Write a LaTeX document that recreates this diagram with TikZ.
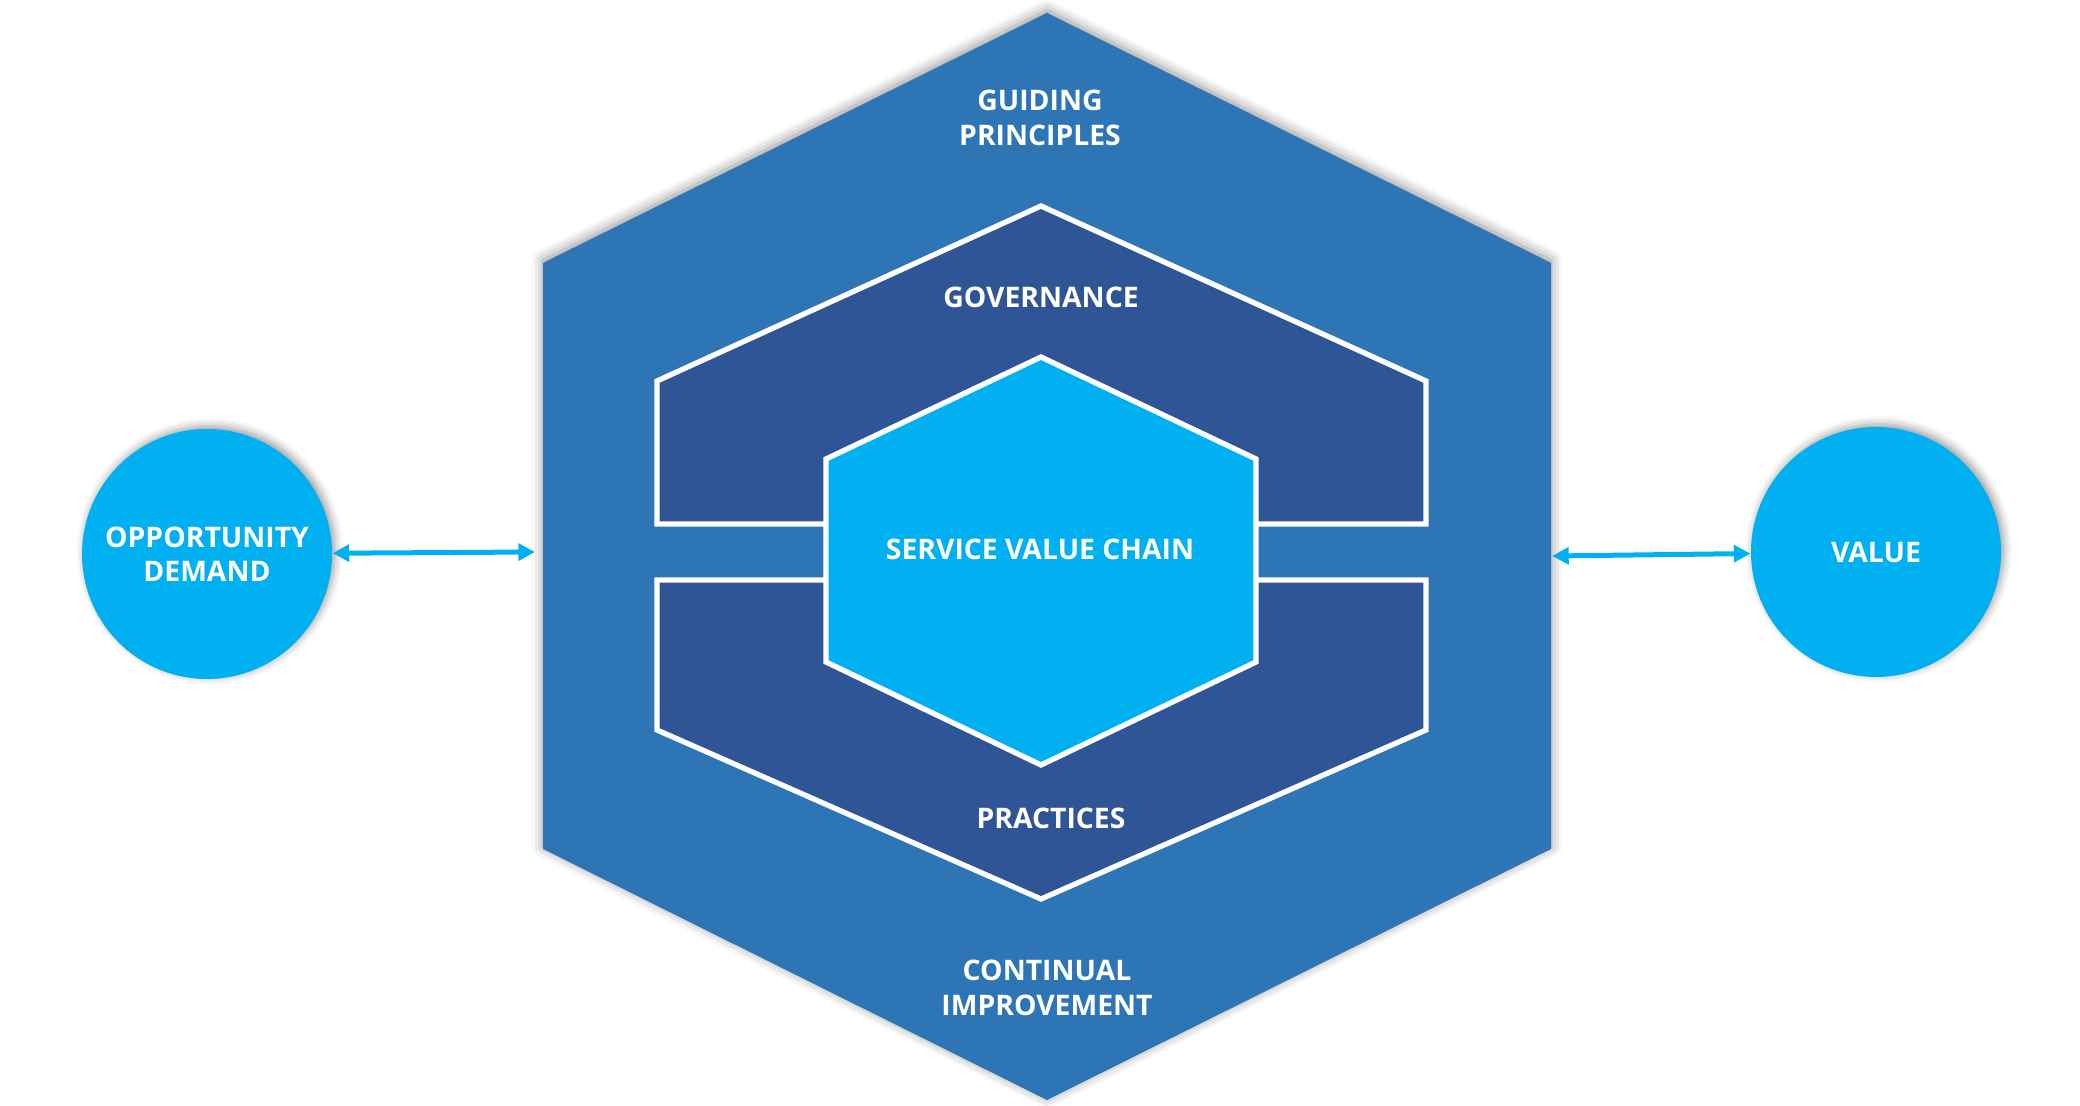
\documentclass[tikz,border=0pt]{standalone}
\usepackage{fontspec}
\setmainfont{Open Sans}
\definecolor{svblue}{RGB}{46,117,182}
\definecolor{svdark}{RGB}{47,85,151}
\definecolor{svcyan}{RGB}{0,176,240}
\usetikzlibrary{arrows.meta,shadows.blur}

\begin{document}
\begin{tikzpicture}[x=0.36pt, y=-0.36pt,
    hexshade/.style={blur shadow={shadow xshift=0pt, shadow yshift=1pt, shadow blur radius=4pt, shadow opacity=45}},
    layer/.style={fill=svdark, draw=white, line width=1.9pt},
    lbl/.style={text=white, align=center, font=\fontsize{10.2}{12.4}\selectfont\bfseries},
    disc/.style={circle, minimum size=90pt, fill=svcyan, inner sep=0pt, text=white, align=center,
      font=\fontsize{10.2}{12.4}\selectfont\bfseries,
      blur shadow={shadow xshift=1pt, shadow yshift=1pt, shadow blur radius=3pt, shadow opacity=40}},
    arr/.style={{Triangle[length=6pt, width=6pt]}-{Triangle[length=6pt, width=6pt]}, line width=1.8pt, svcyan}
  ]
    \useasboundingbox (0,0) rectangle (2080,1106);

    % outer hexagon
    \path[fill=svblue, hexshade] (1047,13) -- (1551,263) -- (1551,849) -- (1047,1100) -- (543,849) -- (543,263) -- cycle;

    % governance and practices
    \draw[layer] (657,381) -- (1041,206) -- (1426,381) -- (1426,524) -- (657,524) -- cycle;
    \draw[layer] (657,580) -- (1426,580) -- (1426,730) -- (1041,899) -- (657,730) -- cycle;

    % value chain
    \draw[layer, fill=svcyan] (1041,357) -- (1256,459) -- (1256,662) -- (1041,765) -- (826,662) -- (826,459) -- cycle;

    \node[lbl] (guide) at (1040,118) {GUIDING\\PRINCIPLES};
    \node[lbl] (gov)   at (1041,297) {GOVERNANCE};
    \node[lbl] (svc)   at (1040,549) {SERVICE VALUE CHAIN};
    \node[lbl] (prac)  at (1051,818) {PRACTICES};
    \node[lbl] (ci)    at (1047,988) {CONTINUAL\\IMPROVEMENT};

    \node[disc] (opp) at (207,554) {OPPORTUNITY\\DEMAND};
    \node[disc] (val) at (1876,552) {VALUE};

    \coordinate (hexL) at (535,552);
    \coordinate (hexR) at (1552,556);
    \draw[arr] (opp) -- (hexL);
    \draw[arr] (hexR) -- (val);
  \end{tikzpicture}
\end{document}
